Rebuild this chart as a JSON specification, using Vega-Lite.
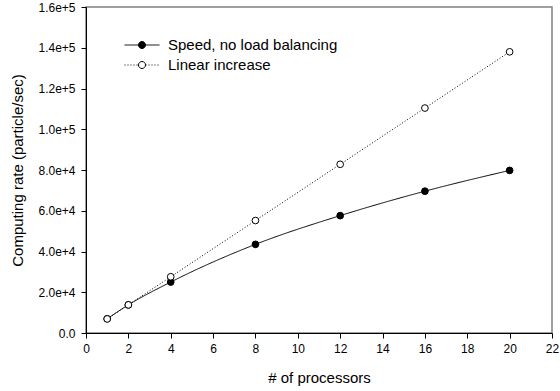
{
  "$schema": "https://vega.github.io/schema/vega-lite/v6.json",
  "width": 466,
  "height": 326,
  "autosize": {"type": "none"},
  "padding": {"left": 86, "top": 7, "right": 8, "bottom": 58},
  "background": "white",
  "config": {
    "view": {"stroke": "#808080", "strokeWidth": 1.5},
    "font": "Liberation Sans",
    "axis": {
      "grid": false,
      "domainColor": "black",
      "tickColor": "black",
      "tickSize": 5,
      "labelColor": "black",
      "titleColor": "black",
      "labelFont": "Liberation Sans",
      "titleFont": "Liberation Sans",
      "labelFontSize": 12,
      "titleFontSize": 15,
      "titleFontWeight": "normal"
    },
    "legend": {
      "labelFont": "Liberation Sans",
      "labelFontSize": 15,
      "labelColor": "black",
      "labelLimit": 400,
      "padding": 0
    }
  },
  "data": {
    "values": [
      {"p": 1, "rate": 7000, "series": "Speed, no load balancing"},
      {"p": 2, "rate": 13800, "series": "Speed, no load balancing"},
      {"p": 4, "rate": 25000, "series": "Speed, no load balancing"},
      {"p": 8, "rate": 43500, "series": "Speed, no load balancing"},
      {"p": 12, "rate": 57600, "series": "Speed, no load balancing"},
      {"p": 16, "rate": 69600, "series": "Speed, no load balancing"},
      {"p": 20, "rate": 79800, "series": "Speed, no load balancing"},
      {"p": 1, "rate": 6900, "series": "Linear increase"},
      {"p": 2, "rate": 13800, "series": "Linear increase"},
      {"p": 4, "rate": 27600, "series": "Linear increase"},
      {"p": 8, "rate": 55200, "series": "Linear increase"},
      {"p": 12, "rate": 82800, "series": "Linear increase"},
      {"p": 16, "rate": 110400, "series": "Linear increase"},
      {"p": 20, "rate": 138000, "series": "Linear increase"}
    ]
  },
  "encoding": {
    "x": {
      "field": "p",
      "type": "quantitative",
      "scale": {"domain": [0, 22], "nice": false, "zero": false},
      "axis": {
        "title": "# of processors",
        "values": [0, 2, 4, 6, 8, 10, 12, 14, 16, 18, 20, 22],
        "labelPadding": 5,
        "titlePadding": 16,
        "labelFlush": false
      }
    },
    "y": {
      "field": "rate",
      "type": "quantitative",
      "scale": {"domain": [0, 160000], "nice": false},
      "axis": {
        "title": "Computing rate (particle/sec)",
        "values": [0, 20000, 40000, 60000, 80000, 100000, 120000, 140000, 160000],
        "labelExpr": "datum.value == 0 ? '0.0' : format(datum.value, '.1e')",
        "labelPadding": 6,
        "titlePadding": 12,
        "labelFlush": false
      }
    }
  },
  "layer": [
    {
      "mark": {"type": "line", "color": "black", "strokeWidth": 1, "interpolate": "monotone"},
      "encoding": {
        "strokeDash": {
          "field": "series",
          "type": "nominal",
          "scale": {
            "domain": ["Speed, no load balancing", "Linear increase"],
            "range": [[1, 0], [1, 2]]
          },
          "legend": {
            "orient": "none",
            "legendX": 38,
            "legendY": 30,
            "title": null,
            "symbolType": "stroke",
            "symbolSize": 1225,
            "symbolStrokeColor": "black",
            "symbolStrokeWidth": 1,
            "clipHeight": 16,
            "rowPadding": 4,
            "labelExpr": "''",
            "labelOffset": 8
          }
        }
      }
    },
    {
      "mark": {"type": "point", "shape": "circle", "filled": false, "size": 45, "stroke": "black", "strokeWidth": 1, "opacity": 1},
      "encoding": {
        "fill": {
          "field": "series",
          "type": "nominal",
          "sort": "descending",
          "scale": {"range": ["black", "white"]},
          "legend": {
            "orient": "none",
            "legendX": 38,
            "legendY": 30,
            "title": null,
            "symbolType": "M-0.2,0A0.2,0.2,0,1,0,0.2,0A0.2,0.2,0,1,0,-0.2,0Z",
            "symbolSize": 1225,
            "symbolStrokeColor": "black",
            "symbolStrokeWidth": 1,
            "symbolOpacity": 1,
            "clipHeight": 16,
            "rowPadding": 4,
            "labelOffset": 8
          }
        }
      }
    }
  ]
}
